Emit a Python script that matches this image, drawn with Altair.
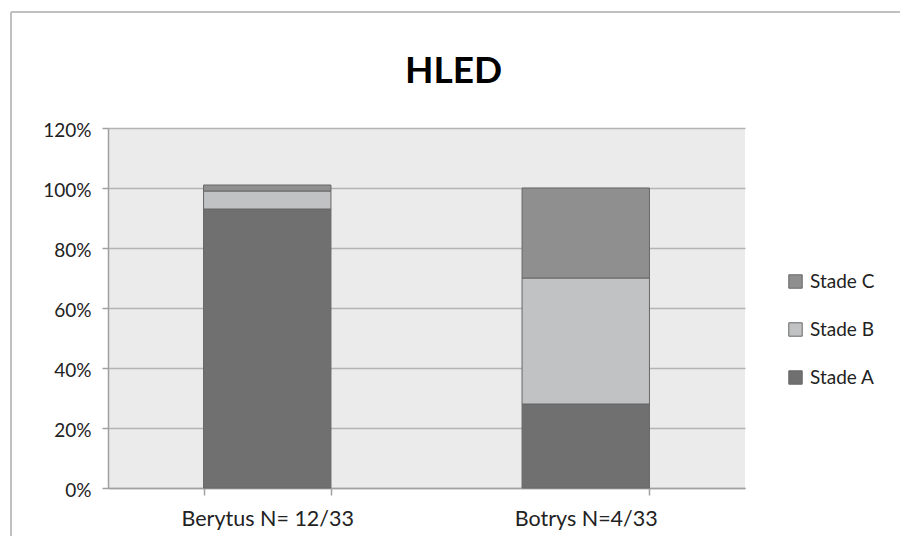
import altair as alt
import pandas as pd

categories = ["Berytus N= 12/33", "Botrys N=4/33"]
stages = ["Stade A", "Stade B", "Stade C"]
stade_a = [0.93, 0.28]
stade_b = [0.06, 0.42]
stade_c = [0.02, 0.30]

rows = []
for i, cat in enumerate(categories):
    for rank, (st, vals) in enumerate(zip(stages, [stade_a, stade_b, stade_c])):
        rows.append({"cat": cat, "stade": st, "value": vals[i], "rank": rank})
df = pd.DataFrame(rows)

FONT = "Lato"

bars = alt.Chart(df).mark_bar(stroke="#666666", strokeWidth=1).encode(
    x=alt.X("cat:N", sort=categories, title=None,
            scale=alt.Scale(paddingInner=0.6, paddingOuter=0.3),
            axis=alt.Axis(labelAngle=0, tickBand="extent", tickSize=7,
                          labelPadding=13, labelFontSize=21.5, labelColor="#222222",
                          domainColor="#a0a0a0", tickColor="#a0a0a0", domainWidth=1.5,
                          tickWidth=1.5, grid=False)),
    y=alt.Y("value:Q", stack="zero", title=None,
            scale=alt.Scale(domain=[0, 1.2], nice=False),
            axis=alt.Axis(format="%", values=[0, 0.2, 0.4, 0.6, 0.8, 1.0, 1.2],
                          tickSize=6, labelPadding=11, labelFontSize=19, labelOffset=2,
                          labelColor="#222222", domainColor="#a0a0a0",
                          tickColor="#a0a0a0", domainWidth=1.5, tickWidth=1.5,
                          grid=True, gridColor="#b4b4b4", gridWidth=1.5)),
    color=alt.Color("stade:N",
                    scale=alt.Scale(domain=["Stade C", "Stade B", "Stade A"],
                                    range=["#8f8f8f", "#c1c2c4", "#707070"]),
                    legend=alt.Legend(title=None, orient="none", legendX=678, legendY=144,
                                      symbolType="square", symbolSize=180,
                                      symbolStrokeColor="#666666", symbolStrokeWidth=1,
                                      labelFontSize=19, labelColor="#222222",
                                      rowPadding=28, labelOffset=5)),
    order=alt.Order("rank:Q", sort="ascending"),
)

border = alt.Chart(pd.DataFrame({"k": [0]})).mark_rule(color="#c0c0c0", strokeWidth=2).encode(
    x=alt.value(-97), x2=alt.value(800), y=alt.value(-116)
) + alt.Chart(pd.DataFrame({"k": [0]})).mark_rule(color="#c0c0c0", strokeWidth=2).encode(
    x=alt.value(-97), y=alt.value(-116), y2=alt.value(430)
)

chart = alt.layer(border, bars).properties(
    width=637, height=360,
    autosize=alt.AutoSizeParams(type="none"),
    padding={"left": 100, "top": 120, "right": 155, "bottom": 48},
    title=alt.TitleParams("HLED", fontSize=37, font=FONT, fontWeight="bold",
                          color="#000000", anchor="middle", dx=27, offset=-80),
).configure(font=FONT).configure_view(fill="#ebebeb", stroke=None).configure_axis(
    labelFont=FONT
).configure_legend(labelFont=FONT)

chart.save("out.html", embed_options={"renderer": "svg", "actions": False})
